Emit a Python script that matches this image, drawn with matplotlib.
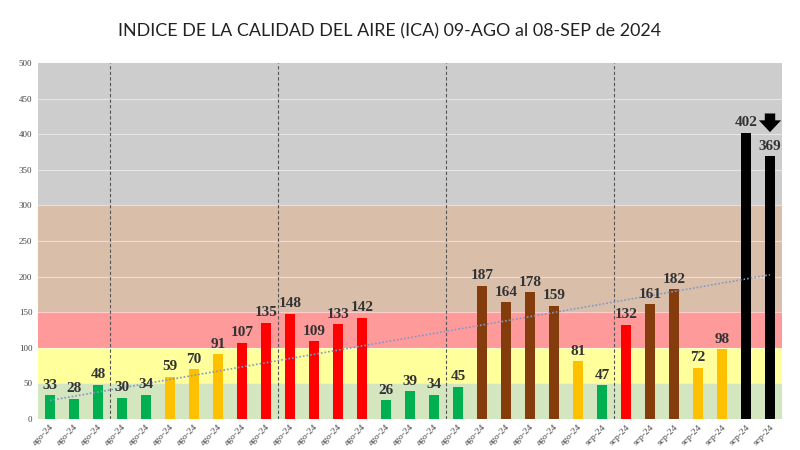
import numpy as np
import matplotlib.pyplot as plt

# ICA diario, 09-ago al 08-sep 2024
valores = [33, 28, 48, 30, 34, 59, 70, 91, 107, 135, 148, 109, 133, 142,
           26, 39, 34, 45, 187, 164, 178, 159, 81, 47, 132, 161, 182, 72,
           98, 402, 369]
etiquetas = ["ago-24"] * 23 + ["sep-24"] * 8
separadores = [2.5, 9.5, 16.5, 23.5]

# rangos ICA (limite superior, color de fondo, color de barra)
limites = [50, 100, 150, 300, 500]
fondos = ["#d3e6c0", "#ffff9c", "#ff9a9a", "#d9bfaa", "#cdcdcd"]
colores_barra = ["#00b050", "#ffc000", "#ff0000", "#843c0c", "#000000"]


def color_ica(v):
    for lim, c in zip(limites, colores_barra):
        if v <= lim:
            return c
    return colores_barra[-1]


fig = plt.figure(figsize=(8, 4.5), dpi=100)
ax = fig.add_axes([0.0475, 0.069, 0.93, 0.791])

x = np.arange(len(valores))
ax.set_xlim(-0.5, len(valores) - 0.5)
ax.set_ylim(0, 500)

# bandas de fondo
abajo = 0
for lim, c in zip(limites, fondos):
    ax.axhspan(abajo, lim, color=c, zorder=0, lw=0)
    abajo = lim
for y in range(50, 500, 50):
    ax.axhline(y, color="white", lw=0.8, alpha=0.5, zorder=0.5)

for s in separadores:
    ax.axvline(s, color="#555555", lw=0.8, ls=(0, (3, 2)), zorder=1)

ax.bar(x, valores, width=0.4, color=[color_ica(v) for v in valores], zorder=2)

for xi, v in zip(x, valores):
    ax.text(xi, v + 5, str(v), ha="center", va="bottom", fontsize=11,
            fontweight="bold", family="Liberation Serif", color="#333333", zorder=4)

# linea de tendencia
m, b = np.polyfit(x, valores, 1)
ax.plot(x, m * x + b, ls=(0, (1, 1.2)), color="#7f98c8", lw=1.2, zorder=3)

# flecha sobre el ultimo dia
ax.annotate("", xy=(x[-1], valores[-1] + 30), xytext=(x[-1], valores[-1] + 64),
            arrowprops=dict(arrowstyle="simple,head_width=1.6,head_length=0.85,tail_width=0.75",
                            color="black", lw=0), zorder=5)

ax.set_xticks(x)
ax.set_xticklabels(etiquetas, rotation=45, ha="right", rotation_mode="anchor",
                   fontsize=6.8, family="Liberation Serif", color="#444444")
ax.set_yticks(range(0, 501, 50))
ax.set_yticklabels([str(v) for v in range(0, 501, 50)], fontsize=6.5,
                   family="Liberation Serif", color="#444444")
ax.tick_params(length=0, pad=4)
ax.tick_params(axis="x", pad=3)
for sp in ax.spines.values():
    sp.set_visible(False)

fig.text(0.4875, 0.93, "INDICE DE LA CALIDAD DEL AIRE (ICA) 09-AGO al 08-SEP de 2024",
         ha="center", va="center", fontsize=12.9, family="Lato", color="#222222")

fig.savefig("out.png", dpi=100)
